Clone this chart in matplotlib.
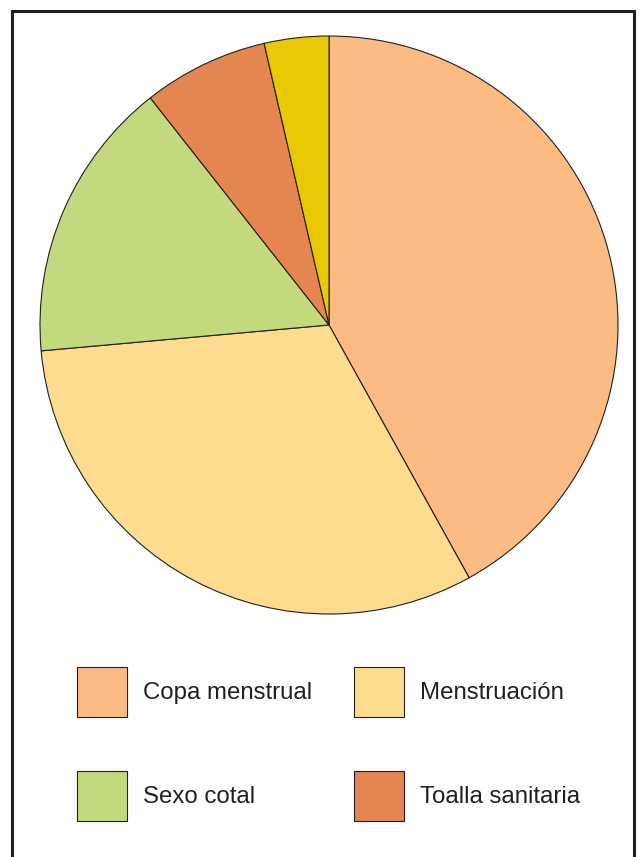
import matplotlib
matplotlib.use("Agg")
import matplotlib.pyplot as plt
from matplotlib.patches import Rectangle

plt.rcParams["font.family"] = ["Liberation Sans", "DejaVu Sans"]

# Datos (porcentajes)
categorias = ["Copa menstrual", "Menstruación", "Sexo cotal", "Toalla sanitaria", ""]
valores = [41.9, 31.6, 15.8, 7.0, 3.6]
colores = ["#FDBB84", "#FEDC8F", "#C2DA7D", "#E58650", "#E8C800"]

W, H = 641, 857
fig = plt.figure(figsize=(W / 100, H / 100), dpi=100)

# marco negro alrededor de la figura
fig.patches.append(
    Rectangle((12 / W, -0.05), (634 - 12) / W, 1.05 - 11 / H,
              transform=fig.transFigure, fill=False,
              edgecolor="#231F20", linewidth=2.2)
)

cx, cy, r = 329, 325, 289
ax = fig.add_axes([(cx - r) / W, (H - cy - r) / H, 2 * r / W, 2 * r / H])
wedges, _ = ax.pie(
    valores,
    colors=colores,
    startangle=90,
    counterclock=False,
    radius=1,
    wedgeprops=dict(edgecolor="#231F20", linewidth=0.8),
)
ax.set_xlim(-1, 1)
ax.set_ylim(-1, 1)
ax.set_aspect("equal")
ax.axis("off")

# leyenda en filas: Copa / Menstruacion, Sexo / Toalla
orden = [0, 2, 1, 3]
leg = fig.legend(
    [wedges[i] for i in orden],
    [categorias[i] for i in orden],
    ncol=2,
    loc="upper left",
    bbox_to_anchor=(77 / W, 1 - 667 / H),
    frameon=False,
    fontsize=17.3,
    handlelength=2.08,
    handleheight=2.825,
    handletextpad=0.67,
    columnspacing=1.75,
    labelspacing=2.25,
    borderpad=0,
    borderaxespad=0,
)
for t in leg.get_texts():
    t.set_color("#231F20")

fig.savefig("out.png", dpi=100)
